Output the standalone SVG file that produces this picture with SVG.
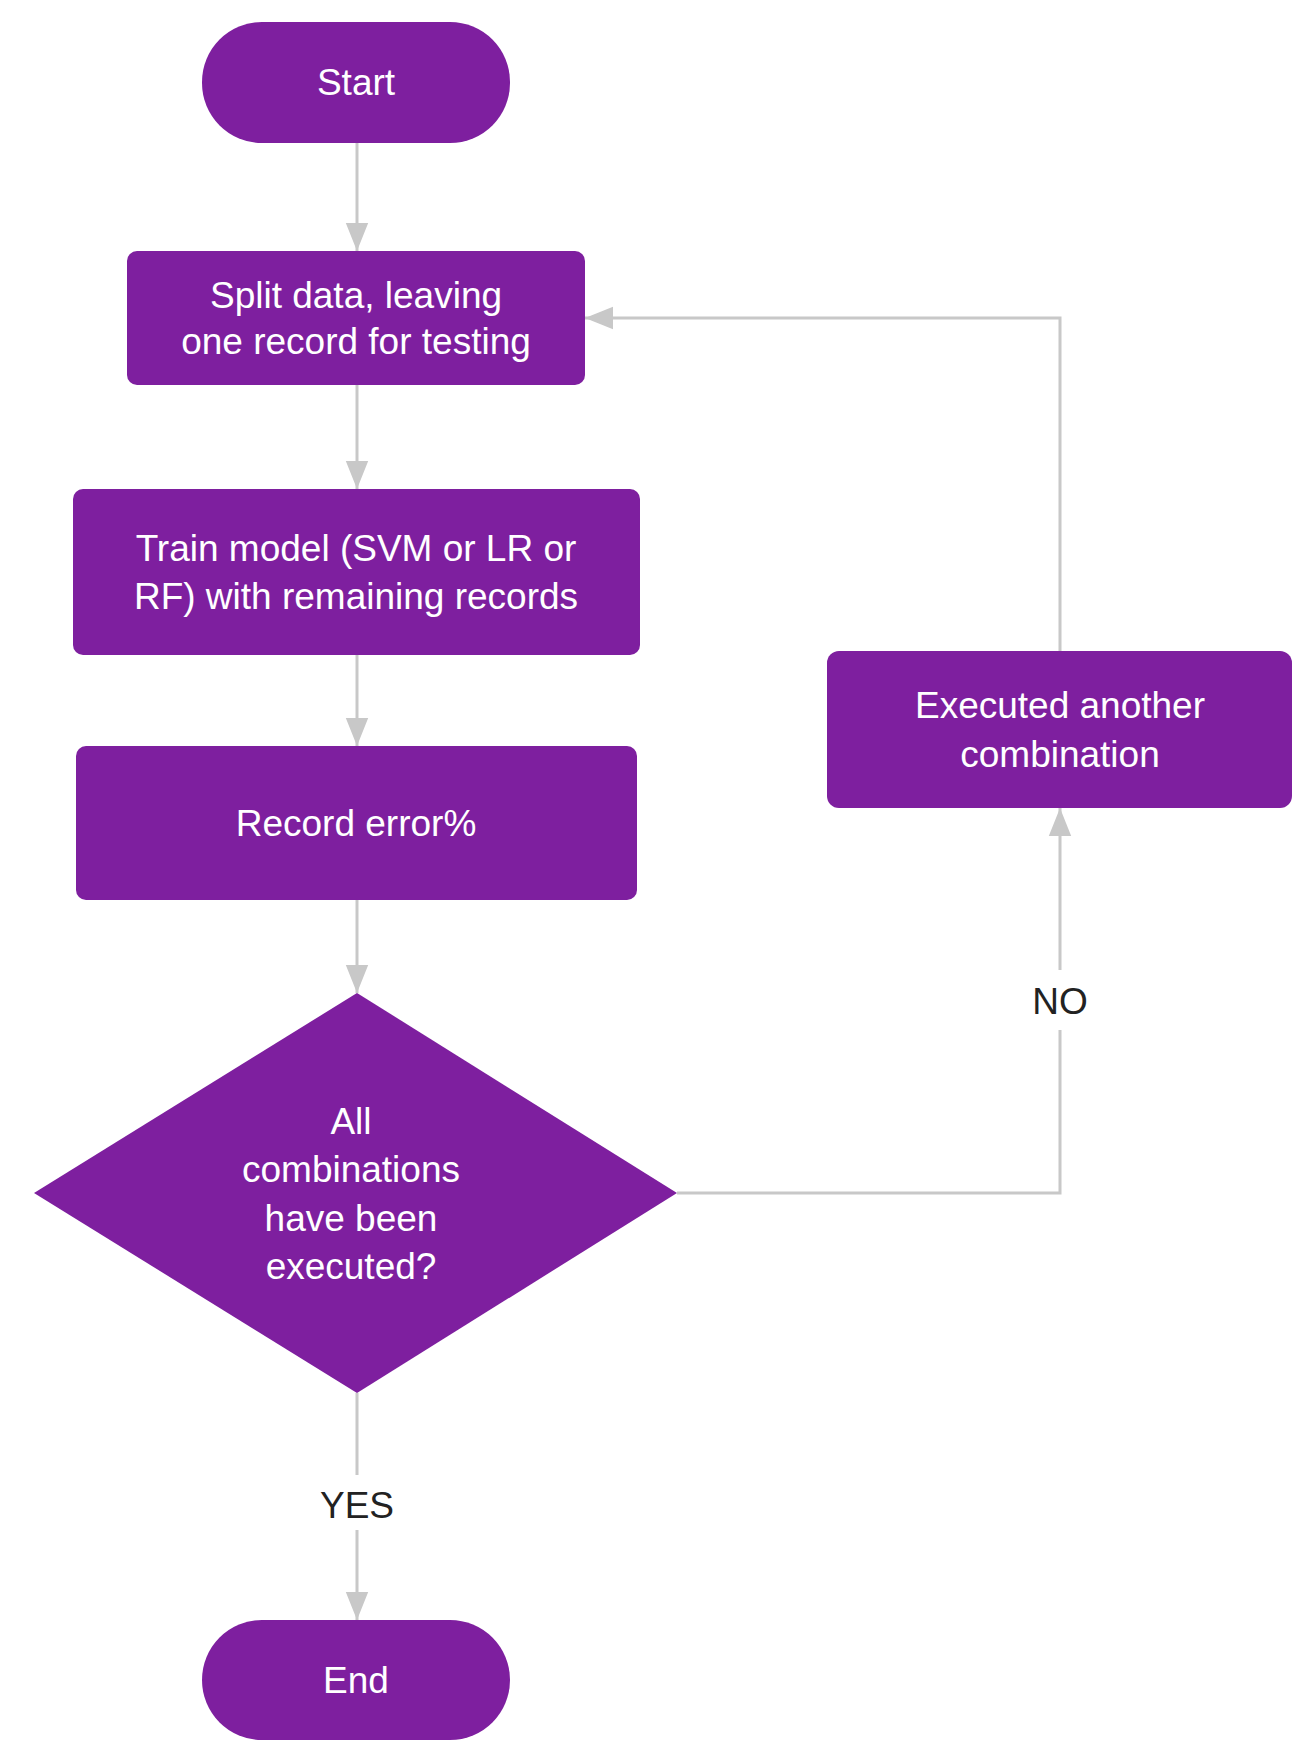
<svg xmlns="http://www.w3.org/2000/svg" width="1311" height="1761" viewBox="0 0 1311 1761">
<style>
.n{fill:#7E1F9F}
.t{fill:#fff;font-family:"Liberation Sans",Arial,sans-serif;font-size:37px;text-anchor:middle}
.l{fill:#222;font-family:"Liberation Sans",Arial,sans-serif;font-size:37px;text-anchor:middle}
.c{fill:none;stroke:#C8C8C8;stroke-width:3}
</style>
<defs><marker id="a" viewBox="0 0 10 10" refX="10" refY="5" markerWidth="9" markerHeight="9" markerUnits="userSpaceOnUse" orient="auto"><path d="M0,0L10,5L0,10z" fill="#C8C8C8"/></marker>
<marker id="b" viewBox="0 0 10 10" refX="10" refY="5" markerWidth="28" markerHeight="28" markerUnits="userSpaceOnUse" orient="auto"><path d="M0,1L10,5L0,9z" fill="#C8C8C8"/></marker></defs>
<rect width="1311" height="1761" fill="#fff"/>
<g id="connectors">
<path class="c" d="M357,143V251" marker-end="url(#b)"/>
<path class="c" d="M357,385V489" marker-end="url(#b)"/>
<path class="c" d="M357,655V746" marker-end="url(#b)"/>
<path class="c" d="M357,900V993" marker-end="url(#b)"/>
<path class="c" d="M357,1393V1475M357,1530V1620" marker-end="url(#b)"/>
<path class="c" d="M677,1193H1060V1030M1060,970V808" marker-end="url(#b)"/>
<path class="c" d="M1060,651V318H585" marker-end="url(#b)"/>
<text class="l" x="1060" y="1014">NO</text>
<text class="l" x="357" y="1518">YES</text>
</g>
<g id="start"><rect class="n" x="202" y="22" width="308" height="121" rx="60"/><text class="t" x="356" y="95">Start</text></g>
<g id="split"><rect class="n" x="127" y="251" width="458" height="134" rx="10"/><text class="t" x="356" y="308">Split data, leaving</text><text class="t" x="356" y="354">one record for testing</text></g>
<g id="train"><rect class="n" x="73" y="489" width="567" height="166" rx="10"/><text class="t" x="356" y="561">Train model (SVM or LR or</text><text class="t" x="356" y="609">RF) with remaining records</text></g>
<g id="record"><rect class="n" x="76" y="746" width="561" height="154" rx="10"/><text class="t" x="356" y="836">Record error%</text></g>
<g id="decision"><path class="n" d="M357,993L677,1193L357,1393L34,1193z"/><text class="t" x="351" y="1134">All</text><text class="t" x="351" y="1182">combinations</text><text class="t" x="351" y="1231">have been</text><text class="t" x="351" y="1279">executed?</text></g>
<g id="another"><rect class="n" x="827" y="651" width="465" height="157" rx="12"/><text class="t" x="1060" y="718">Executed another</text><text class="t" x="1060" y="767">combination</text></g>
<g id="end"><rect class="n" x="202" y="1620" width="308" height="120" rx="60"/><text class="t" x="356" y="1693">End</text></g>
</svg>
